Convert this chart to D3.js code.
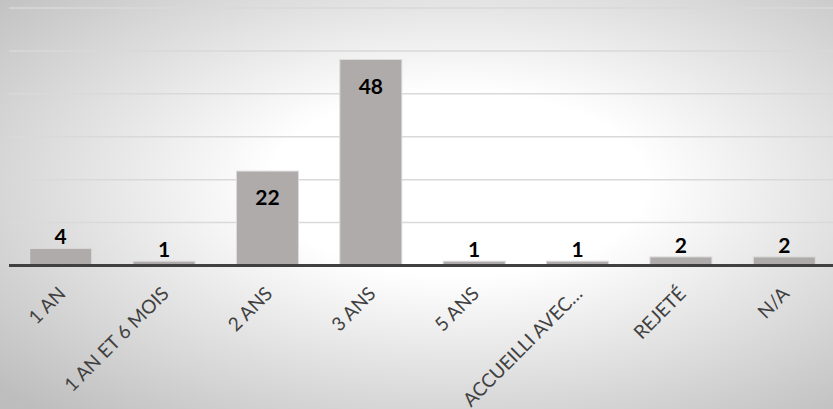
<!DOCTYPE html>
<html>
<head>
<meta charset="utf-8">
<script src="https://cdn.jsdelivr.net/npm/d3@7"></script>
<style>
  html, body { margin: 0; padding: 0; }
  svg { display: block; }
  .grid line { stroke: #d9d9d9; stroke-width: 1.5; }
  .cat { font-family: Lato, "Open Sans", sans-serif; font-size: 19px; fill: #404040; }
  .val { font-family: Lato, "Open Sans", sans-serif; font-size: 21px; font-weight: bold; fill: #000; }
</style>
</head>
<body>
<div id="chart"></div>
<script>
var categories = ["1 AN", "1 AN ET 6 MOIS", "2 ANS", "3 ANS", "5 ANS", "ACCUEILLI AVEC…", "REJETÉ", "N/A"];
var values = [4, 1, 22, 48, 1, 1, 2, 2];
var yTicks = [10, 20, 30, 40, 50, 60];

var width = 833, height = 409;

var svg = d3.select("#chart").append("svg")
    .attr("width", width)
    .attr("height", height);

// background: radial grey-to-white fill
var grad = svg.append("defs").append("radialGradient")
    .attr("id", "bg")
    .attr("cx", "55%").attr("cy", "45%")
    .attr("r", "75%");
grad.append("stop").attr("offset", "0").attr("stop-color", "#ffffff");
grad.append("stop").attr("offset", "0.3").attr("stop-color", "#ffffff");
grad.append("stop").attr("offset", "1").attr("stop-color", "#bdbdbd");

svg.append("rect")
    .attr("width", width).attr("height", height)
    .attr("fill", "url(#bg)");

var x = d3.scaleBand()
    .domain(categories)
    .range([9, 836])
    .paddingInner(0.4)
    .paddingOuter(0.2);

var y = d3.scaleLinear()
    .domain([0, 60])
    .range([265.5, 8]);

// gridlines
svg.append("g")
    .attr("class", "grid")
    .selectAll("line")
    .data(yTicks)
    .enter().append("line")
    .attr("x1", 9).attr("x2", width)
    .attr("y1", function (d) { return y(d); })
    .attr("y2", function (d) { return y(d); });

// bars
svg.selectAll(".bar")
    .data(values)
    .enter().append("rect")
    .attr("class", "bar")
    .attr("x", function (d, i) { return x(categories[i]); })
    .attr("width", x.bandwidth())
    .attr("y", function (d) { return y(d); })
    .attr("height", function (d) { return y(0) - y(d); })
    .attr("fill", "#afabab")
    .attr("stroke", "#dcdcdc")
    .attr("stroke-width", 1);

// baseline
svg.append("line")
    .attr("x1", 9).attr("x2", width)
    .attr("y1", y(0)).attr("y2", y(0))
    .attr("stroke", "#404040")
    .attr("stroke-width", 3);

// value labels: inside the tall bars, above the short ones
svg.selectAll(".val")
    .data(values)
    .enter().append("text")
    .attr("class", "val")
    .attr("text-anchor", "middle")
    .attr("x", function (d, i) { return x(categories[i]) + x.bandwidth() / 2; })
    .attr("y", function (d) {
        var h = y(0) - y(d);
        return h > 30 ? y(d) + 34 : y(d) - 4;
    })
    .text(function (d) { return d; });

// rotated category labels
svg.selectAll(".cat")
    .data(categories)
    .enter().append("text")
    .attr("class", "cat")
    .attr("text-anchor", "end")
    .attr("transform", function (d) {
        var cx = x(d) + x.bandwidth() / 2 + 6;
        return "translate(" + cx + "," + 295 + ") rotate(-45)";
    })
    .text(function (d) { return d; });
</script>
</body>
</html>
